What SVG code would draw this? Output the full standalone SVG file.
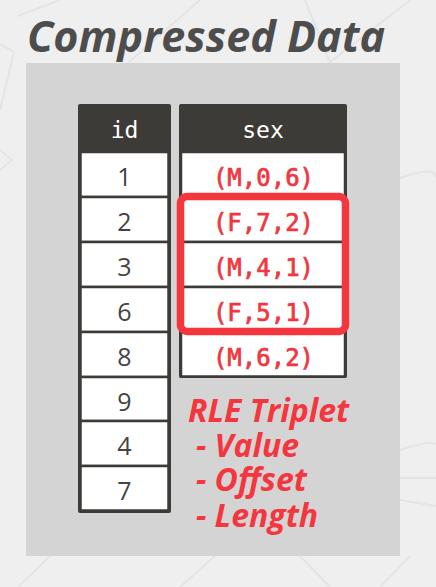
<svg xmlns="http://www.w3.org/2000/svg" width="436" height="587" viewBox="0 0 436 587">
<style>
.hdr{fill:#3d3b37}
.cell{fill:#fff;stroke:#3d3b37;stroke-width:2.5}
.ht{font-family:"DejaVu Sans Mono",monospace;font-size:23px;fill:#fff;text-anchor:middle}
.num{font-family:"Open Sans","Liberation Sans",sans-serif;font-size:25px;fill:#444;text-anchor:middle}
.tri{font-family:"DejaVu Sans Mono","Liberation Mono",monospace;font-size:24px;fill:#f0363e;stroke:#f0363e;stroke-width:0.7;text-anchor:middle}
.rle{font-family:"Open Sans","Liberation Sans",sans-serif;font-size:32px;font-weight:700;font-style:italic;fill:#f4363f}
.bg{fill:none;stroke:#e4e4e4;stroke-width:2}
</style>
<rect width="436" height="587" fill="#efefef"/>
<g id="background">
<path class="bg" d="M18 16 L60 0 M0 110 L14 52 M14 52 L0 44 M120 70 L200 0 M305 0 L330 62 M320 70 L410 0 M0 150 L12 160 L0 170"/>
<path class="bg" d="M18 587 L50 556 M180 587 L215 556 M300 556 L330 587 M410 556 L380 587"/>
<path class="bg" d="M400 178 Q436 165 436 178 M400 450 Q430 440 436 444 M400 478 L436 478 M400 500 L436 506"/>
</g>
<rect id="panel" x="26" y="63" width="374" height="493" fill="#d4d4d4"/>
<text id="title" x="27" y="52" font-family="'Open Sans','Liberation Sans',sans-serif" font-size="43" font-weight="700" font-style="italic" fill="#4d4d4d" textLength="358" lengthAdjust="spacingAndGlyphs">Compressed Data</text>
<g id="col-id">
<rect class="hdr" x="78" y="104" width="93" height="409" rx="2"/>
<text class="ht" x="124.5" y="138">id</text>
<rect class="cell" x="80.5" y="152" width="88" height="45"/>
<rect class="cell" x="80.5" y="197" width="88" height="45"/>
<rect class="cell" x="80.5" y="242" width="88" height="45"/>
<rect class="cell" x="80.5" y="287" width="88" height="45"/>
<rect class="cell" x="80.5" y="332" width="88" height="45"/>
<rect class="cell" x="80.5" y="377" width="88" height="44"/>
<rect class="cell" x="80.5" y="421" width="88" height="45"/>
<rect class="cell" x="80.5" y="466" width="88" height="44.5"/>
<text class="num" x="124.5" y="186">1</text>
<text class="num" x="124.5" y="231">2</text>
<text class="num" x="124.5" y="276">3</text>
<text class="num" x="124.5" y="321">6</text>
<text class="num" x="124.5" y="366">8</text>
<text class="num" x="124.5" y="411">9</text>
<text class="num" x="124.5" y="455">4</text>
<text class="num" x="124.5" y="500">7</text>
</g>
<g id="col-sex">
<rect class="hdr" x="179" y="104" width="168" height="274" rx="2"/>
<text class="ht" x="263" y="138">sex</text>
<rect class="cell" x="181" y="152" width="164" height="45"/>
<rect class="cell" x="181" y="197" width="164" height="45"/>
<rect class="cell" x="181" y="242" width="164" height="45"/>
<rect class="cell" x="181" y="287" width="164" height="45"/>
<rect class="cell" x="181" y="332" width="164" height="44.5"/>
<text class="tri" x="263.5" y="186">(M,0,6)</text>
<text class="tri" x="263.5" y="231">(F,7,2)</text>
<text class="tri" x="263.5" y="276">(M,4,1)</text>
<text class="tri" x="263.5" y="321">(F,5,1)</text>
<text class="tri" x="263.5" y="366">(M,6,2)</text>
</g>
<g id="highlight">
<rect x="180.5" y="196.5" width="165" height="135" rx="7" fill="none" stroke="#f4363f" stroke-width="7.5"/>
</g>
<g id="legend">
<text class="rle" x="188" y="422">RLE Triplet</text>
<text class="rle" x="196" y="457">- Value</text>
<text class="rle" x="196" y="491">- Offset</text>
<text class="rle" x="196" y="527">- Length</text>
</g>
</svg>
